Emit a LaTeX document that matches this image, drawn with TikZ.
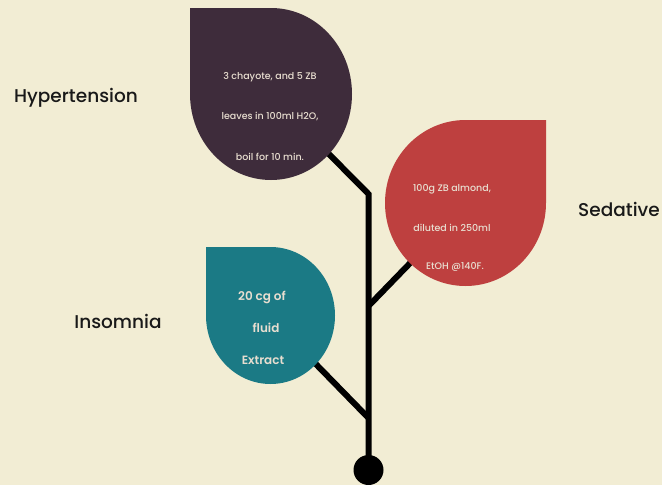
\documentclass[tikz,border=0pt]{standalone}
\usepackage{fontspec}
\setmainfont{Poppins}
\newfontfamily\medfont{Poppins}[UprightFont=* Medium, BoldFont=* SemiBold]
\definecolor{paper}{RGB}{242,237,212}
\definecolor{plum}{RGB}{62,44,59}
\definecolor{brick}{RGB}{190,64,63}
\definecolor{teal}{RGB}{27,122,133}
\definecolor{leaftext}{RGB}{232,222,208}
\tikzset{
  stemline/.style={line width=6pt, black, line join=miter},
  leaflabel/.style={text=leaftext, font=\medfont\fontsize{9.5}{11}\selectfont, inner sep=0pt},
  tealabel/.style={text=leaftext, font=\medfont\fontsize{12}{14}\selectfont\bfseries, inner sep=0pt},
  uselabel/.style={text=black!90, font=\medfont\fontsize{18.5}{22}\selectfont, inner sep=0pt},
}
\begin{document}
\begin{tikzpicture}[x=1pt,y=-1pt]
  \fill[paper] (0,0) rectangle (662,485);
  \useasboundingbox (0,0) rectangle (662,485);
  \clip (0,0) rectangle (662,485);

  % joints of the stem
  \coordinate (root) at (368.5,470);
  \coordinate (jtop) at (368.5,194);
  \coordinate (jred) at (368.5,306);
  \coordinate (jteal) at (368.5,418);
  \coordinate (tipplum) at (316,141);
  \coordinate (tipred) at (416,257);
  \coordinate (tipteal) at (308,356);

  % stem and branches
  \draw[stemline] (tipplum) -- (jtop) -- (root);
  \draw[stemline] (jred) -- (tipred);
  \draw[stemline] (jteal) -- (tipteal);
  \fill (root) circle[radius=15];

  % leaves: three quarters of an ellipse plus one sharp corner
  \fill[plum] (190,8) -- (271,8)
    arc[start angle=-90, end angle=180, x radius=81, y radius=86] -- cycle;
  \fill[brick] (546,120) -- (546,203)
    arc[start angle=0, end angle=270, x radius=80.5, y radius=83] -- cycle;
  \fill[teal] (206,247) -- (270.5,247)
    arc[start angle=-90, end angle=180, x radius=64.5, y radius=68.5] -- cycle;

  % recipes
  \node[leaflabel] (p1) at (270,77) {3 chayote, and 5 ZB};
  \node[leaflabel] (p2) at (270,117) {leaves in 100ml H2O,};
  \node[leaflabel] (p3) at (270,157) {boil for 10 min.};
  \node[leaflabel] (r1) at (452,189) {100g ZB almond,};
  \node[leaflabel] (r2) at (452,228) {diluted in 250ml};
  \node[leaflabel] (r3) at (455,267) {EtOH @140F.};
  \node[tealabel] (t1) at (262,297) {20 cg of};
  \node[tealabel] (t2) at (266,328) {fluid};
  \node[tealabel] (t3) at (263,360) {Extract};

  % uses
  \node[uselabel] (hyp) at (76,98) {Hypertension};
  \node[uselabel] (sed) at (619,209) {Sedative};
  \node[uselabel] (ins) at (118,321) {Insomnia};
\end{tikzpicture}
\end{document}
